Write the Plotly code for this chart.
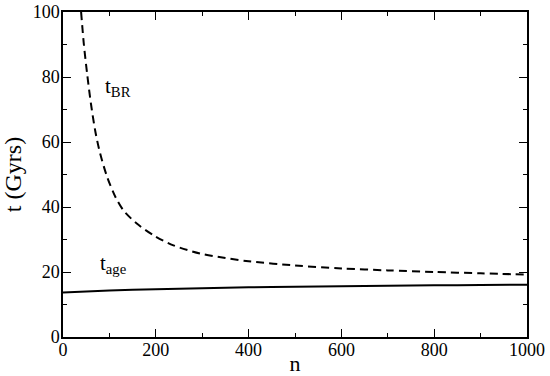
import plotly.graph_objects as go

# t_BR (dashed)
n_br = [39, 45, 52, 60, 70, 80, 95, 113, 130, 159, 195, 238, 295, 350, 400, 500, 600, 700, 800, 900, 1000]
t_br = [100, 90, 81, 72, 63, 56.5, 49.3, 43.1, 39.0, 34.9, 31.3, 28.2, 25.7, 24.3, 23.3, 22.0, 21.1, 20.5, 20.0, 19.6, 19.2]

# t_age (solid)
n_age = [0, 100, 200, 300, 400, 500, 600, 700, 800, 900, 1000]
t_age = [13.7, 14.3, 14.7, 15.0, 15.3, 15.5, 15.6, 15.8, 15.9, 16.0, 16.1]

x_ticks = [0, 200, 400, 600, 800, 1000]
y_ticks = [0, 20, 40, 60, 80, 100]

FONT = "Liberation Serif"

fig = go.Figure()
fig.add_trace(go.Scatter(x=n_br, y=t_br, mode="lines",
                         line=dict(color="black", width=2, dash="8px,5px", shape="spline", smoothing=0.8),
                         showlegend=False))
fig.add_trace(go.Scatter(x=n_age, y=t_age, mode="lines",
                         line=dict(color="black", width=2, shape="spline", smoothing=0.8),
                         showlegend=False))

fig.add_annotation(x=86, y=77, text="t<sub>BR</sub>", showarrow=False, xanchor="left", yanchor="middle",
                   font=dict(family=FONT, size=21, color="black"))
fig.add_annotation(x=76, y=22.5, text="t<sub>age</sub>", showarrow=False, xanchor="left", yanchor="middle",
                   font=dict(family=FONT, size=21, color="black"))

fig.update_xaxes(range=[0, 1000], tickmode="array", tickvals=x_ticks, ticktext=[str(v) for v in x_ticks],
                 tickfont=dict(family=FONT, size=18, color="black"), ticklabelstandoff=-4,
                 showline=True, linecolor="black", linewidth=1.5, mirror="allticks", ticks="inside",
                 ticklen=8, tickwidth=1.2, tickcolor="black", showgrid=False, zeroline=False, automargin=False,
                 minor=dict(dtick=100, ticks="inside", ticklen=4, tickcolor="black", tickwidth=1.2),
                 title=dict(text="n", font=dict(family=FONT, size=22, color="black"), standoff=0))
fig.update_yaxes(range=[0, 100], tickmode="array", tickvals=y_ticks, ticktext=[str(v) for v in y_ticks],
                 tickfont=dict(family=FONT, size=18, color="black"), ticklabelstandoff=-2,
                 showline=True, linecolor="black", linewidth=1.5, mirror="allticks", ticks="inside",
                 ticklen=8, tickwidth=1.2, tickcolor="black", showgrid=False, zeroline=False, automargin=False,
                 minor=dict(dtick=10, ticks="inside", ticklen=4, tickcolor="black", tickwidth=1.2),
                 title=dict(text="t (Gyrs)", font=dict(family=FONT, size=24, color="black"), standoff=4))

fig.update_layout(width=550, height=376, margin=dict(l=63, r=23, t=12, b=39),
                  font=dict(family=FONT, size=18, color="black"),
                  plot_bgcolor="white", paper_bgcolor="white")
fig.write_html("out.html", config={"displayModeBar": False},
               post_script="document.body.style.margin='0';")
